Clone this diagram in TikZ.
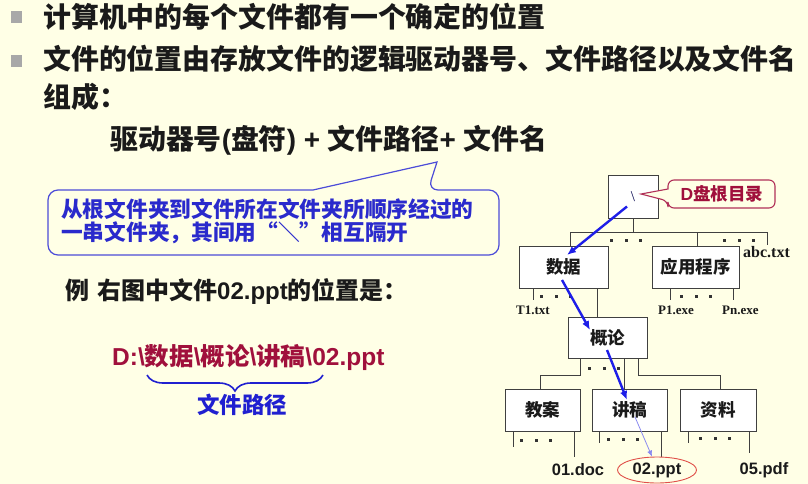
\documentclass[tikz,border=0pt]{standalone}
\usepackage{fontspec}
\setmainfont{Liberation Sans}
\newfontfamily\cjk{Noto Sans CJK SC}
\newfontfamily\serifb{Liberation Serif}
\usetikzlibrary{arrows.meta,calc,decorations.pathreplacing,shapes.geometric}

\definecolor{bg}{HTML}{FFFFE6}
\definecolor{bulletgray}{HTML}{A8A8A8}
\definecolor{calloutblue}{HTML}{4C4CD8}
\definecolor{noteblue}{HTML}{2A2ACC}
\definecolor{pathred}{HTML}{A0103C}
\definecolor{labelred}{HTML}{B03058}
\definecolor{bracketblue}{HTML}{2020D0}
\definecolor{walkblue}{HTML}{1E1EE8}
\definecolor{lightwalk}{HTML}{8A8AF0}
\definecolor{ringred}{HTML}{E0504A}
\definecolor{ink}{HTML}{1A1A1A}

\newcommand{\zh}[1]{{\cjk\bfseries #1}}
\newcommand{\fs}[1]{\fontsize{#1}{#1}\selectfont}

\begin{document}
\begin{tikzpicture}[x=1pt,y=-1pt,
  txt/.style={anchor=west, inner sep=0pt, text=ink, font=\bfseries},
  bulletbox/.style={fill=bulletgray, minimum width=11pt, minimum height=12pt, inner sep=0pt},
  folder/.style={draw=black!75, line width=0.9pt, fill=white, inner sep=0pt,
    text=ink, font=\cjk\bfseries\fs{17.5}},
  branch/.style={draw=black!75, line width=0.9pt},
  fname/.style={inner sep=0pt, text=ink, font=\serifb\bfseries\fs{13}},
  leaf/.style={inner sep=0pt, text=ink, font=\bfseries\fs{16.5}},
  walk/.style={draw=walkblue, line width=2.4pt, -{Latex[length=9pt,width=7.5pt]}},
  dot/.style={fill=black!80}
]
% page
\fill[bg] (0,0) rectangle (808,484);
\useasboundingbox (0,0) rectangle (808,484);

% bulleted text
\node[bulletbox] (b1) at (16,17.5) {};
\node[bulletbox] (b2) at (16,61) {};
\node[txt, font=\cjk\bfseries\fs{27.9}] (t1) at (43,17) {计算机中的每个文件都有一个确定的位置};
\node[txt, font=\cjk\bfseries\fs{27.9}] (t2) at (43,59) {文件的位置由存放文件的逻辑驱动器号、文件路径以及文件名};
\node[txt, font=\cjk\bfseries\fs{27.9}] (t3) at (43,97) {组成：};
\node[txt, font=\bfseries\fs{27.9}] (t4) at (110,140)
  {\zh{驱动器号}(\zh{盘符}) + \zh{文件路径}+ \zh{文件名}};

% speech bubble explaining the path
\draw[calloutblue, line width=1.2pt, fill=bg]
  (437,162) -- (313,190) [rounded corners=10pt] -- (48,190) -- (48,255)
  -- (499,255) -- (499,190) -- (428,190) [sharp corners] -- cycle;
\node[anchor=west, inner sep=0pt, align=left, text=noteblue,
  font=\cjk\bfseries\fontsize{21.7}{23}\selectfont] (note) at (61,221.5)
  {从根文件夹到文件所在文件夹所顺序经过的\\
   一串文件夹，其间用\makebox[1em][r]{“}＼\makebox[1em][l]{”}相互隔开};

% worked example
\node[txt, font=\bfseries\fs{24}] (ex) at (65,291)
  {\zh{例}\hspace{8pt}\zh{右图中文件}02.ppt\zh{的位置是：}};
\node[txt, text=pathred, font=\bfseries\fs{24.5}] (fullpath) at (112,357)
  {D:\textbackslash\zh{数据}\textbackslash\zh{概论}\textbackslash\zh{讲稿}\textbackslash 02.ppt};
\coordinate (brL) at (147,375);
\coordinate (brR) at (323,375);
\draw[bracketblue, line width=1.6pt,
  decorate, decoration={brace, amplitude=16pt}] (brR) -- (brL);
\node[inner sep=0pt, text=bracketblue, font=\cjk\bfseries\fs{22.5}] (pathlbl) at (242,405) {文件路径};

% directory tree
\node[folder, minimum width=50pt, minimum height=43pt,
  font=\serifb\fs{15}, text=black!70!blue] (root) at (633,196.5) {\textbackslash};
\node[folder, minimum width=89pt, minimum height=42pt] (shuju) at (563.5,267) {数据};
\node[folder, minimum width=87pt, minimum height=42pt] (yingyong) at (695.5,267) {应用程序};
\node[folder, minimum width=79pt, minimum height=41pt] (gailun) at (607.5,337.5) {概论};
\node[folder, minimum width=75pt, minimum height=42pt] (jiaoan) at (542.5,410) {教案};
\node[folder, minimum width=75pt, minimum height=42pt] (jianggao) at (629.5,410) {讲稿};
\node[folder, minimum width=76pt, minimum height=42pt] (ziliao) at (718,410) {资料};

% root label bubble
\draw[labelred, line width=1.1pt, fill=bg]
  (641,194) -- (668,189) [rounded corners=6pt] -- (668,180) -- (775,180)
  -- (775,208) -- (668,208) -- (668,201) [sharp corners] -- cycle;
\node[inner sep=0pt, text=pathred, font=\bfseries\fs{17.5}] (rootlbl) at (722,194) {D\zh{盘根目录}};

% level 1 branches
\coordinate (j0) at (633,232);
\coordinate (jL) at (570,232);
\coordinate (jM) at (697,232);
\coordinate (jR) at (767,232);
\coordinate (jRend) at (767,245);
\draw[branch] (root.south) -- (j0);
\draw[branch] (jL) -- (jR);
\draw[branch] (jL) -- (jL |- shuju.north);
\draw[branch] (jM) -- (jM |- yingyong.north);
\draw[branch] (jR) -- (jRend);
\node[fname, anchor=west, font=\serifb\bfseries\fs{16}] (abc) at (743,252) {abc.txt};

% below 数据
\coordinate (sA) at (533,288);
\coordinate (sAend) at (533,300);
\coordinate (sB) at (597,288);
\draw[branch] (sA) -- (sAend);
\draw[branch] (sB) -- (sB |- gailun.north);
\node[fname, anchor=west] (t1txt) at (516,310) {T1.txt};

% below 应用程序
\coordinate (yA) at (670,288);
\coordinate (yAend) at (670,300);
\coordinate (yB) at (733,288);
\coordinate (yBend) at (733,300);
\draw[branch] (yA) -- (yAend);
\draw[branch] (yB) -- (yBend);
\node[fname, anchor=west] (p1) at (658,310) {P1.exe};
\node[fname, anchor=west] (pn) at (722,310) {Pn.exe};

% below 概论
\coordinate (gA) at (580,358);
\coordinate (gAk) at (580,375);
\coordinate (gAl) at (540,375);
\coordinate (gB) at (624,358);
\coordinate (gC) at (638,358);
\coordinate (gCk) at (638,375);
\coordinate (gCr) at (720,375);
\draw[branch] (gA) -- (gAk) -- (gAl) -- (gAl |- jiaoan.north);
\draw[branch] (gB) -- (gB |- jianggao.north);
\draw[branch] (gC) -- (gCk) -- (gCr) -- (gCr |- ziliao.north);

% below the leaf folders
\coordinate (jaA) at (513,431); \coordinate (jaAe) at (513,447);
\coordinate (jaB) at (574,431); \coordinate (jaBe) at (574,457);
\coordinate (jgA) at (599,431); \coordinate (jgAe) at (599,443);
\coordinate (jgB) at (661,431); \coordinate (jgBe) at (661,457);
\coordinate (zlA) at (688,431); \coordinate (zlAe) at (688,443);
\coordinate (zlB) at (749,431); \coordinate (zlBe) at (749,453);
\draw[branch] (jaA) -- (jaAe);
\draw[branch] (jaB) -- (jaBe);
\draw[branch] (jgA) -- (jgAe);
\draw[branch] (jgB) -- (jgBe);
\draw[branch] (zlA) -- (zlAe);
\draw[branch] (zlB) -- (zlBe);

\node[leaf] (f01) at (578,470) {01.doc};
\node[leaf, draw=ringred, line width=0.9pt, ellipse,
  minimum width=79pt, minimum height=26pt] (f02) at (657,470) {02.ppt};
\node[leaf] (f05) at (764,470) {05.pdf};

% elided entries
\foreach \x/\y in {610/239, 723/239, 540/295, 680/295, 588/367,
                   520/439, 607/438, 699/437}{
  \foreach \i in {0,1,2}
    \fill[dot] ({\x+\i*14.5},\y) rectangle ++(3,3);
}

% route to the file
\draw[walk] ($(root.center)+(-6,10)$) -- ($(shuju.center)+(3.5,-12)$);
\draw[walk] ($(shuju.center)+(-1.5,13)$) -- ($(gailun.center)+(-17.5,-7.5)$);
\draw[walk] ($(gailun.center)+(-0.5,12.5)$) -- ($(jianggao.center)+(-2.5,-10)$);
\draw[draw=lightwalk, line width=0.8pt, -{Latex[length=6pt,width=5pt]}]
  ($(jianggao.center)+(5.5,7)$) -- ($(f02.north)+(-5,0)$);
\end{tikzpicture}
\end{document}
